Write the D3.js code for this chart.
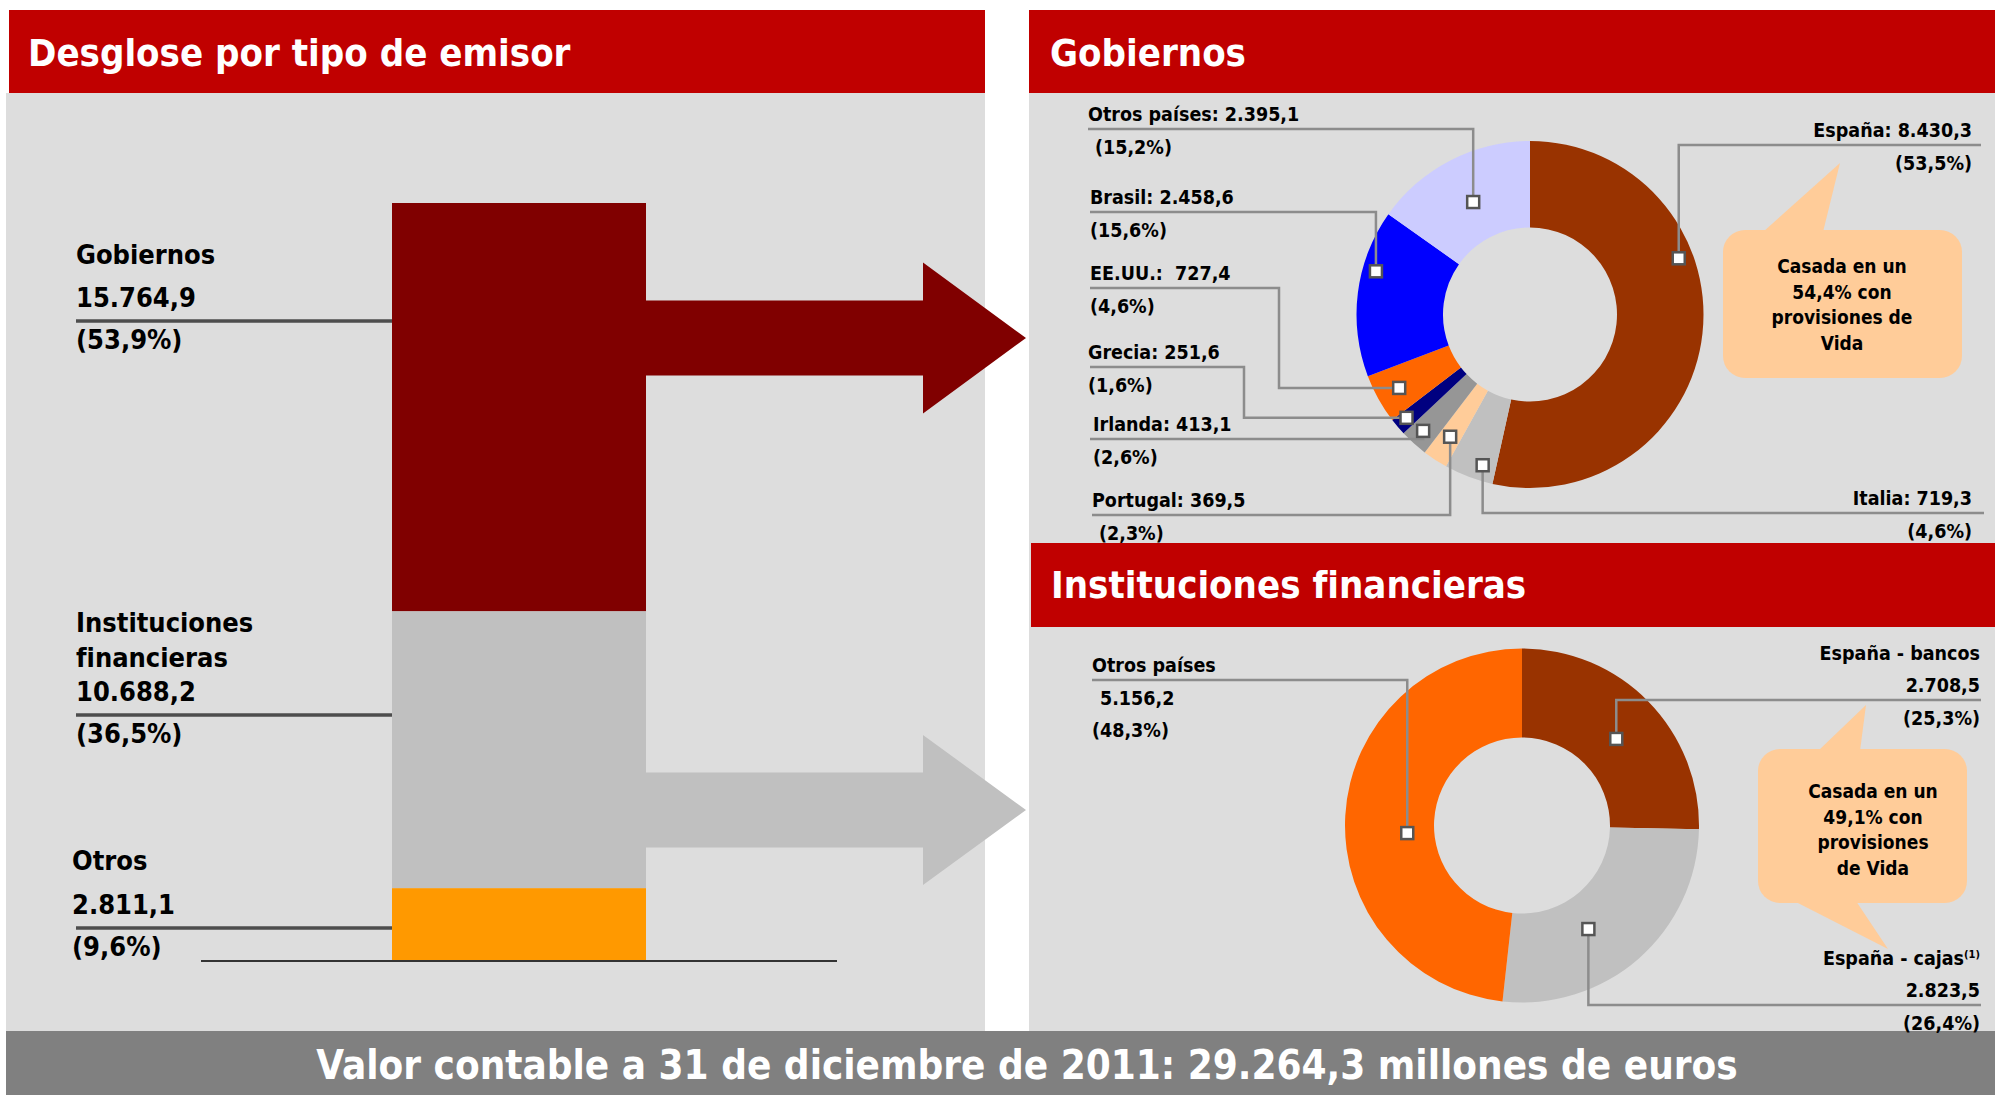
<!DOCTYPE html>
<html lang="es">
<head>
<meta charset="utf-8">
<title>Desglose por tipo de emisor</title>
<script src="https://cdn.jsdelivr.net/npm/d3@7"></script>
<style>
  body { margin: 0; background: #ffffff; }
  svg { display: block; }
  text { font-family: "DejaVu Sans Condensed", "DejaVu Sans", sans-serif; font-stretch: condensed; font-weight: bold; fill: #000; }
  .titulo { fill: #ffffff; font-size: 38px; }
  .lbl { font-size: 19.5px; }
  .lbl-izq { font-size: 27px; }
  .nota { font-size: 19px; }
</style>
</head>
<body>
<svg width="1995" height="1095"></svg>
<script>
// --- datos ---
var emisores = [["Gobiernos"], ["Instituciones", "financieras"], ["Otros"]];
var emisorValores = [15764.9, 10688.2, 2811.1];
var emisorPct = [53.9, 36.5, 9.6];
var totalCartera = 29264.3;

var gobPaises = ["España", "Italia", "Portugal", "Irlanda", "Grecia", "EE.UU.", "Brasil", "Otros países"];
var gobValores = [8430.3, 719.3, 369.5, 413.1, 251.6, 727.4, 2458.6, 2395.1];
var gobPct = [53.5, 4.6, 2.3, 2.6, 1.6, 4.6, 15.6, 15.2];

var finTipos = ["España - bancos", "España - cajas", "Otros países"];
var finValores = [2708.5, 2823.5, 5156.2];
var finPct = [25.3, 26.4, 48.3];

var notaGob = ["Casada en un", "54,4% con", "provisiones de", "Vida"];
var notaFin = ["Casada en un", "49,1% con", "provisiones", "de Vida"];

// --- colores ---
var emisorColores = ["#800000", "#c0c0c0", "#ff9900"];
var gobColores = ["#993300", "#c0c0c0", "#ffcc99", "#969696", "#000080", "#ff6600", "#0000ff", "#ccccff"];
var finColores = ["#993300", "#c0c0c0", "#ff6600"];

var es = d3.formatLocale({decimal: ",", thousands: ".", grouping: [3], currency: ["", " €"]});
var fmtNum = es.format(",.1f");
var fmtPct = function (p) { return "(" + es.format(".1f")(p) + "%)"; };

var svg = d3.select("svg");

// --- paneles ---
svg.append("rect").attr("x", 6).attr("y", 93).attr("width", 979).attr("height", 940).attr("fill", "#dddddd");
svg.append("rect").attr("x", 1029).attr("y", 93).attr("width", 966).attr("height", 940).attr("fill", "#dddddd");
svg.append("rect").attr("x", 9).attr("y", 10).attr("width", 976).attr("height", 83).attr("fill", "#c00000");
svg.append("rect").attr("x", 1029).attr("y", 10).attr("width", 966).attr("height", 83).attr("fill", "#c00000");
svg.append("rect").attr("x", 1031).attr("y", 543).attr("width", 964).attr("height", 84).attr("fill", "#c00000");
svg.append("rect").attr("x", 6).attr("y", 1031).attr("width", 1989).attr("height", 64).attr("fill", "#808080");

svg.append("text").attr("class", "titulo").attr("x", 28).attr("y", 66).text("Desglose por tipo de emisor");
svg.append("text").attr("class", "titulo").attr("x", 1050).attr("y", 66).text("Gobiernos");
svg.append("text").attr("class", "titulo").attr("x", 1051).attr("y", 598).text("Instituciones financieras");
svg.append("text").attr("class", "titulo").attr("x", 1027).attr("y", 1079)
  .attr("text-anchor", "middle").style("font-size", "40px")
  .text("Valor contable a 31 de diciembre de 2011: " + fmtNum(totalCartera) + " millones de euros");

// --- barra apilada (de arriba hacia abajo) ---
var y = d3.scaleLinear().domain([0, d3.sum(emisorValores)]).range([203, 961]);
var barX = 392, barW = 254;
var acum = d3.cumsum(emisorValores);
var segs = emisorValores.map(function (v, i) { return {v: v, y0: acum[i] - v, y1: acum[i], i: i}; });

// flechas (detrás de la barra)
var flechas = [
  {i: 0, cy: 338, shaft: 75, head: 151},
  {i: 1, cy: 810, shaft: 75, head: 150}
];
var headX = 923, tipX = 1026;
svg.selectAll("path.flecha").data(flechas).enter().append("path")
  .attr("class", "flecha")
  .attr("fill", function (d) { return emisorColores[d.i]; })
  .attr("d", function (d) {
    var s = d.shaft / 2, h = d.head / 2;
    return d3.line()([
      [barX + barW - 1, d.cy - s], [headX, d.cy - s], [headX, d.cy - h], [tipX, d.cy],
      [headX, d.cy + h], [headX, d.cy + s], [barX + barW - 1, d.cy + s]
    ]) + "Z";
  });

svg.selectAll("rect.seg").data(segs).enter().append("rect")
  .attr("class", "seg")
  .attr("x", barX).attr("width", barW)
  .attr("y", function (d) { return y(d.y0); })
  .attr("height", function (d) { return y(d.y1) - y(d.y0); })
  .attr("fill", function (d) { return emisorColores[d.i]; });

svg.append("line").attr("x1", 201).attr("x2", 837).attr("y1", 961).attr("y2", 961)
  .attr("stroke", "#333").attr("stroke-width", 2);

// etiquetas izquierda
var izqLayout = [
  {x: 76, lineY: 321, step: 43},
  {x: 76, lineY: 715, step: 34.5},
  {x: 72, lineY: 928, step: 44}
];
emisores.forEach(function (nombre, i) {
  var L = izqLayout[i];
  var lineas = nombre.concat([fmtNum(emisorValores[i])]);
  var n = lineas.length;
  var g = svg.append("g");
  g.append("line").attr("x1", 76).attr("x2", barX).attr("y1", L.lineY).attr("y2", L.lineY)
    .attr("stroke", "#4d4d4d").attr("stroke-width", 3.5);
  lineas.forEach(function (t, k) {
    g.append("text").attr("class", "lbl-izq").attr("x", L.x)
      .attr("y", L.lineY - 14 - L.step * (n - 1 - k)).text(t);
  });
  g.append("text").attr("class", "lbl-izq").attr("x", L.x).attr("y", L.lineY + 28).text(fmtPct(emisorPct[i]));
});

// --- donuts ---
function donut(opts) {
  var pie = d3.pie().sort(null).value(function (d) { return d; });
  var arcos = pie(opts.valores);
  var arc = d3.arc().innerRadius(opts.r0).outerRadius(opts.r1);
  var g = svg.append("g").attr("transform", "translate(" + opts.cx + "," + opts.cy + ")");
  g.selectAll("path").data(arcos).enter().append("path")
    .attr("d", arc)
    .attr("fill", function (d, i) { return opts.colores[i]; });

  var capa = svg.append("g");
  arcos.forEach(function (a, i) {
    var L = opts.layout[i];
    var ang = a.startAngle + L.t * (a.endAngle - a.startAngle);
    var mx = opts.cx + L.r * Math.sin(ang);
    var my = opts.cy - L.r * Math.cos(ang);
    var kx = L.kx != null ? L.kx : mx;
    capa.append("path")
      .attr("d", d3.line()([[mx, my], [kx, my], [kx, L.lineY], [L.lineEnd, L.lineY]]))
      .attr("fill", "none").attr("stroke", "#8c8c8c").attr("stroke-width", 2.5);
    capa.append("rect").attr("x", mx - 6).attr("y", my - 6).attr("width", 12).attr("height", 12)
      .attr("fill", "#ffffff").attr("stroke", "#555555").attr("stroke-width", 2.5);

    var anchor = L.side === "right" ? "end" : "start";
    var tx = L.side === "right" ? opts.rightX : L.tx;
    var arriba = opts.arriba(i);
    var abajo = opts.abajo(i);
    arriba.forEach(function (t, k) {
      var txt = capa.append("text").attr("class", "lbl").attr("text-anchor", anchor)
        .attr("x", tx + (t.dx || 0)).attr("y", L.lineY - 8 - 32 * (arriba.length - 1 - k))
        .style("white-space", "pre");
      txt.text(t.s);
      if (t.sup) {
        txt.append("tspan").attr("dy", -7).style("font-size", "11px").text(t.sup);
      }
    });
    abajo.forEach(function (t, k) {
      capa.append("text").attr("class", "lbl").attr("text-anchor", anchor)
        .attr("x", tx + (t.dx || 0)).attr("y", L.lineY + 25 + 32 * k)
        .style("white-space", "pre").text(t.s);
    });
  });
}

function nota(lineas, caja, colas, cx, y0) {
  var g = svg.append("g");
  colas.forEach(function (c) {
    g.append("path").attr("d", d3.line()(c) + "Z").attr("fill", "#ffcc99");
  });
  g.append("rect").attr("x", caja[0]).attr("y", caja[1]).attr("width", caja[2]).attr("height", caja[3])
    .attr("rx", 22).attr("fill", "#ffcc99");
  lineas.forEach(function (t, k) {
    g.append("text").attr("class", "nota").attr("text-anchor", "middle")
      .attr("x", cx).attr("y", y0 + 25.5 * k).text(t);
  });
}

var gobLayout = [
  {t: 0.36, r: 159, lineY: 145, lineEnd: 1981, side: "right"},
  {t: 0.30, r: 158, lineY: 513, lineEnd: 1984, side: "right"},
  {t: 0.50, r: 146, lineY: 515, lineEnd: 1092, tx: 1092},
  {t: 0.55, r: 158, lineY: 439, lineEnd: 1090, tx: 1093},
  {t: 0.57, r: 161, kx: 1244, lineY: 367, lineEnd: 1090, tx: 1088},
  {t: 0.49, r: 150, kx: 1279, lineY: 288, lineEnd: 1090, tx: 1090},
  {t: 0.65, r: 160, lineY: 212, lineEnd: 1090, tx: 1090},
  {t: 0.51, r: 126, lineY: 129, lineEnd: 1088, tx: 1088}
];

nota(notaGob, [1723, 230, 239, 148], [[[1763, 232], [1840, 163], [1823, 232]]], 1842, 273);

donut({
  cx: 1530, cy: 314.5, r0: 87, r1: 173.5, rightX: 1972,
  valores: gobValores, colores: gobColores, layout: gobLayout,
  arriba: function (i) {
    var sep = gobPaises[i] === "EE.UU." ? ":  " : ": ";
    return [{s: gobPaises[i] + sep + fmtNum(gobValores[i])}];
  },
  abajo: function (i) {
    var dx = (i === 2 || i === 7) ? 7 : 0;
    return [{s: fmtPct(gobPct[i]), dx: dx}];
  }
});

var finLayout = [
  {t: 0.52, r: 128, lineY: 700, lineEnd: 1981, side: "right"},
  {t: 0.59, r: 123, lineY: 1005, lineEnd: 1981, side: "right"},
  {t: 0.46, r: 115, lineY: 680, lineEnd: 1092, tx: 1092}
];

nota(notaFin, [1758, 749, 209, 154],
  [[[1818, 751], [1866, 705], [1860, 751]], [[1794, 901], [1888, 949], [1856, 901]]], 1873, 798);

donut({
  cx: 1522, cy: 825.5, r0: 88, r1: 177, rightX: 1980,
  valores: finValores, colores: finColores, layout: finLayout,
  arriba: function (i) {
    if (i === 2) return [{s: finTipos[i]}];
    return [{s: finTipos[i], sup: i === 1 ? "(1)" : null}, {s: fmtNum(finValores[i])}];
  },
  abajo: function (i) {
    if (i === 2) return [{s: fmtNum(finValores[i]), dx: 8}, {s: fmtPct(finPct[i])}];
    return [{s: fmtPct(finPct[i])}];
  }
});
</script>
</body>
</html>
